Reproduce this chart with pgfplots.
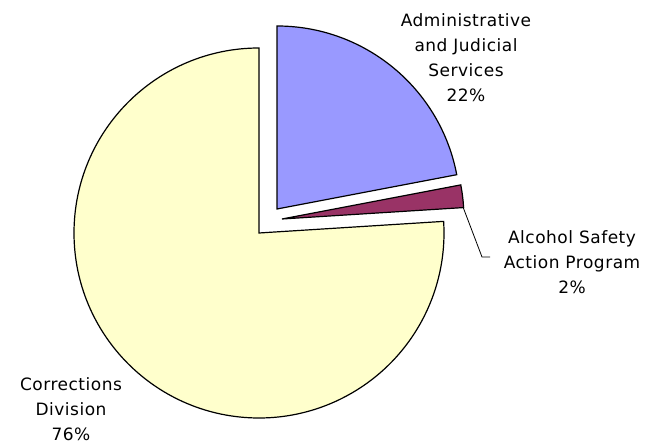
\documentclass[border=0pt]{standalone}
\usepackage{pgfplots}
\pgfplotsset{compat=1.18}
\usepackage{fontspec}
\setmainfont{DejaVu Sans}[LetterSpace=3]

% shares in percent
\def\pAdmin{22}
\def\pAlcohol{2}
\def\pCorr{76}

\definecolor{admin}{HTML}{9999FF}
\definecolor{alcohol}{HTML}{993366}
\definecolor{corr}{HTML}{FFFFCC}

\begin{document}
\begin{tikzpicture}
  \begin{axis}[
      hide axis,
      scale only axis,
      x=1pt, y=1pt,
      xmin=0, xmax=655, ymin=0, ymax=446,
      clip=false,
    ]
    % angles from the shares, clockwise from 12 o'clock
    \pgfmathsetmacro{\aA}{90-3.6*\pAdmin}
    \pgfmathsetmacro{\aB}{\aA-3.6*\pAlcohol}
    % Corrections Division
    \draw[fill=corr, line width=1.2pt, line join=miter]
      (axis cs:259,213) -- ++(90:185pt) arc[start angle=90, end angle={360+\aB}, radius=185pt] -- cycle;
    % Administrative and Judicial Services (exploded)
    \draw[fill=admin, line width=1.2pt, line join=miter]
      (axis cs:277,237) -- ++(90:183pt) arc[start angle=90, end angle=\aA, radius=183pt] -- cycle;
    % Alcohol Safety Action Program (exploded)
    \draw[fill=alcohol, line width=1.2pt, line join=miter]
      (axis cs:282,227) -- ++(\aA:182pt) arc[start angle=\aA, end angle=\aB, radius=182pt] -- cycle;

    \draw[line width=0.8pt] (axis cs:463,239) -- (axis cs:482,189) -- (axis cs:490,189);

    \node[align=center, font=\fontsize{17}{25}\selectfont] at (axis cs:466,388)
      {Administrative\\and Judicial\\Services\\22\%};
    \node[align=center, font=\fontsize{17}{25}\selectfont] at (axis cs:572,184)
      {Alcohol Safety\\Action Program\\2\%};
    \node[align=center, font=\fontsize{17}{25}\selectfont] at (axis cs:71,37)
      {Corrections\\Division\\76\%};
  \end{axis}
  \pgfresetboundingbox
  \path[use as bounding box] (0,0) rectangle (655pt,446pt);
\end{tikzpicture}
\end{document}
